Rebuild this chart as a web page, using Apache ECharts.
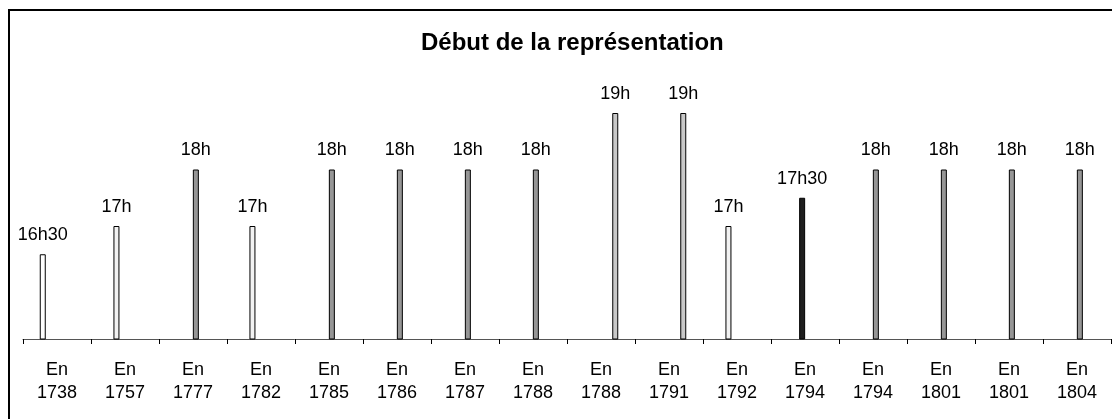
<!DOCTYPE html>
<html>
<head>
<meta charset="utf-8">
<script src="https://cdn.jsdelivr.net/npm/echarts@6/dist/echarts.min.js"></script>
<style>html,body{margin:0;padding:0;background:#fff;}#c{width:1112px;height:419px;}</style>
</head>
<body>
<div id="c"></div>
<script>
var categories = ["En\n1738","En\n1757","En\n1777","En\n1782","En\n1785","En\n1786","En\n1787","En\n1788","En\n1788","En\n1791","En\n1792","En\n1794","En\n1794","En\n1801","En\n1801","En\n1804"];
// hours (decimal); null = no bar in this series
var seriesA = [16.5,null,null,null,null,null,null,null,null,null,null,null,null,null,null,null];
var seriesB = [null,17,null,17,null,null,null,null,null,null,17,null,null,null,null,null];
var seriesC = [null,null,null,null,null,null,null,null,null,null,null,17.5,null,null,null,null];
var seriesD = [null,null,18,null,18,18,18,18,null,null,null,null,18,18,18,18];
var seriesE = [null,null,null,null,null,null,null,null,null,null,null,null,null,null,null,null];
var seriesF = [null,null,null,null,null,null,null,null,19,19,null,null,null,null,null,null];
var title = "Début de la représentation";

function fmt(p){
  var v = p.value; var h = Math.floor(v); var m = Math.round((v-h)*60);
  return h + 'h' + (m ? (m<10?'0'+m:m) : '');
}
function mk(data, color){
  return {
    type:'bar', data:data, barWidth:6, barGap:'-5%',
    itemStyle:{color:color, borderColor:'#000', borderWidth:1},
    label:{show:true, position:'top', distance:10, formatter:fmt,
      fontFamily:'Liberation Sans, Arial, sans-serif', fontSize:18, color:'#000'},
    silent:true
  };
}
var chart = echarts.init(document.getElementById('c'));
chart.setOption({
  animation:false,
  backgroundColor:'#fff',
  title:{text:title, left:416, top:24,
    textStyle:{fontFamily:'Liberation Sans, Arial, sans-serif', fontSize:24, fontWeight:'bold', color:'#000', lineHeight:28}},
  graphic:[{type:'rect', shape:{x:9, y:10, width:1200, height:500}, style:{fill:null, stroke:'#000', lineWidth:2}, silent:true}],
  grid:{left:23, right:1, top:56.5, bottom:80},
  xAxis:{type:'category', data:categories,
    axisLine:{lineStyle:{color:'#555', width:1}},
    axisTick:{show:true, length:5, lineStyle:{color:'#000'}},
    axisLabel:{interval:0, margin:20, fontFamily:'Liberation Sans, Arial, sans-serif', fontSize:18, lineHeight:23, color:'#000'}},
  yAxis:{type:'value', min:15, max:20, show:false, splitLine:{show:false}},
  series:[mk(seriesA,'#ffffff'), mk(seriesB,'#f2f2f2'), mk(seriesC,'#1e1e1e'), mk(seriesD,'#969696'), mk(seriesE,'#808080'), mk(seriesF,'#c8c8c8')]
});
</script>
</body>
</html>
